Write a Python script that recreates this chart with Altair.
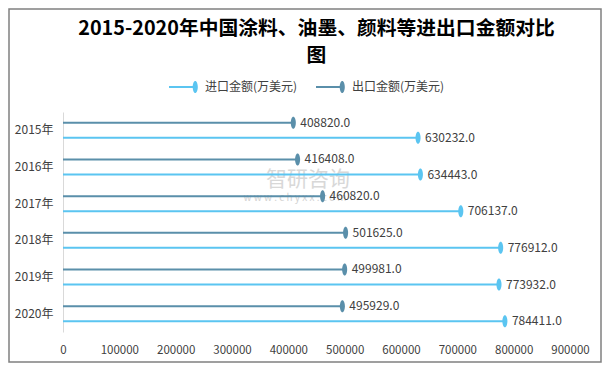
import altair as alt
import pandas as pd

years = ["2015年", "2016年", "2017年", "2018年", "2019年", "2020年"]
import_vals = [630232.0, 634443.0, 706137.0, 776912.0, 773932.0, 784411.0]
export_vals = [408820.0, 416408.0, 460820.0, 501625.0, 499981.0, 495929.0]
series_names = ["进口金额(万美元)", "出口金额(万美元)"]
series_colors = ["#5BC5F1", "#5A8FAA"]
x_ticks = [0, 100000, 200000, 300000, 400000, 500000, 600000, 700000, 800000, 900000]
title_lines = ["2015-2020年中国涂料、油墨、颜料等进出口金额对比", "图"]

rows = []
for y, iv, ev in zip(years, import_vals, export_vals):
    rows.append({"year": y, "series": series_names[1], "value": ev})
    rows.append({"year": y, "series": series_names[0], "value": iv})
df = pd.DataFrame(rows)

FONT = "Noto Sans CJK SC"

ellipse = "M0,-1 A0.42,1 0 1,1 0,1 A0.42,1 0 1,1 0,-1 Z"
legend_sym = ("M-1,-0.07 L0.75,-0.07 L0.75,0.07 L-1,0.07 Z "
              "M0.75,-0.4 A0.17,0.4 0 1,1 0.75,0.4 A0.17,0.4 0 1,1 0.75,-0.4 Z")

color_scale = alt.Scale(domain=series_names, range=series_colors)
legend = alt.Legend(title=None, orient="none", direction="horizontal",
                    legendX=106, legendY=-40,
                    symbolType=legend_sym, symbolSize=900,
                    symbolStrokeWidth=0, labelFontSize=12,
                    labelColor="#404040", labelFont=FONT,
                    labelOffset=6, columnPadding=18, labelLimit=200)
color_enc = alt.Color("series:N", scale=color_scale, legend=legend)

y_enc = alt.Y("year:N", sort=years,
              scale=alt.Scale(type="band", paddingInner=0, paddingOuter=0),
              axis=alt.Axis(title=None, ticks=False, domainColor="#d9d9d9",
                            labelFontSize=12, labelColor="#404040",
                            labelPadding=10, labelFont=FONT))
yoff_enc = alt.YOffset("series:N", sort=[series_names[1], series_names[0]],
                       scale=alt.Scale(type="band", paddingInner=0, paddingOuter=0.22))
x_enc = alt.X("value:Q", scale=alt.Scale(domain=[0, 900000], nice=False),
              axis=alt.Axis(title=None, values=x_ticks, format="d", domain=False,
                            ticks=False, grid=False, labelFontSize=11.5,
                            labelColor="#404040", labelPadding=12,
                            labelFont=FONT, labelFlush=False))

base = alt.Chart(df)

rules = base.mark_rule(strokeWidth=2).encode(
    x=x_enc, x2=alt.datum(0), y=y_enc, yOffset=yoff_enc, color=color_enc,
)

points = base.mark_point(shape=ellipse, filled=True, size=144, opacity=1).encode(
    x=x_enc, y=y_enc, yOffset=yoff_enc, color=color_enc,
)

labels = base.mark_text(align="left", baseline="middle", dx=7, fontSize=12,
                        color="#404040", font=FONT).encode(
    x=x_enc, y=y_enc, yOffset=yoff_enc,
    text=alt.Text("value:Q", format=".1f"),
)

wm_df = pd.DataFrame({"t": ["智研咨询"], "u": ["w w w . c h y x x . c o m"]})
wm1 = alt.Chart(wm_df).mark_text(fontSize=21, color="#c8c8c8", opacity=0.7,
                                 font=FONT, align="center", baseline="middle").encode(
    x=alt.value(245), y=alt.value(68), text="t:N")
wm2 = alt.Chart(wm_df).mark_text(fontSize=10, color="#c8c8c8", opacity=0.8,
                                 font=FONT, align="center", baseline="middle").encode(
    x=alt.value(232), y=alt.value(86), text="u:N")

frame = alt.Chart(wm_df).mark_rect(fill=None, stroke="#808080", strokeWidth=1.5).encode(
    x=alt.value(-54), x2=alt.value(538), y=alt.value(-103), y2=alt.value(250))

chart = alt.layer(wm1, wm2, rules, points, labels, frame).properties(
    width=507, height=220,
    title=alt.Title(title_lines, anchor="middle", fontSize=19.8, font=FONT,
                    fontWeight="bold", color="#000000", lineHeight=27,
                    offset=0, dy=58),
    autosize=alt.AutoSizeParams(type="none"),
    padding={"left": 55, "top": 104, "right": 32, "bottom": 31},
    background="white",
).configure_view(stroke=None)

chart.save("out.html", embed_options={"renderer": "svg", "actions": False})
